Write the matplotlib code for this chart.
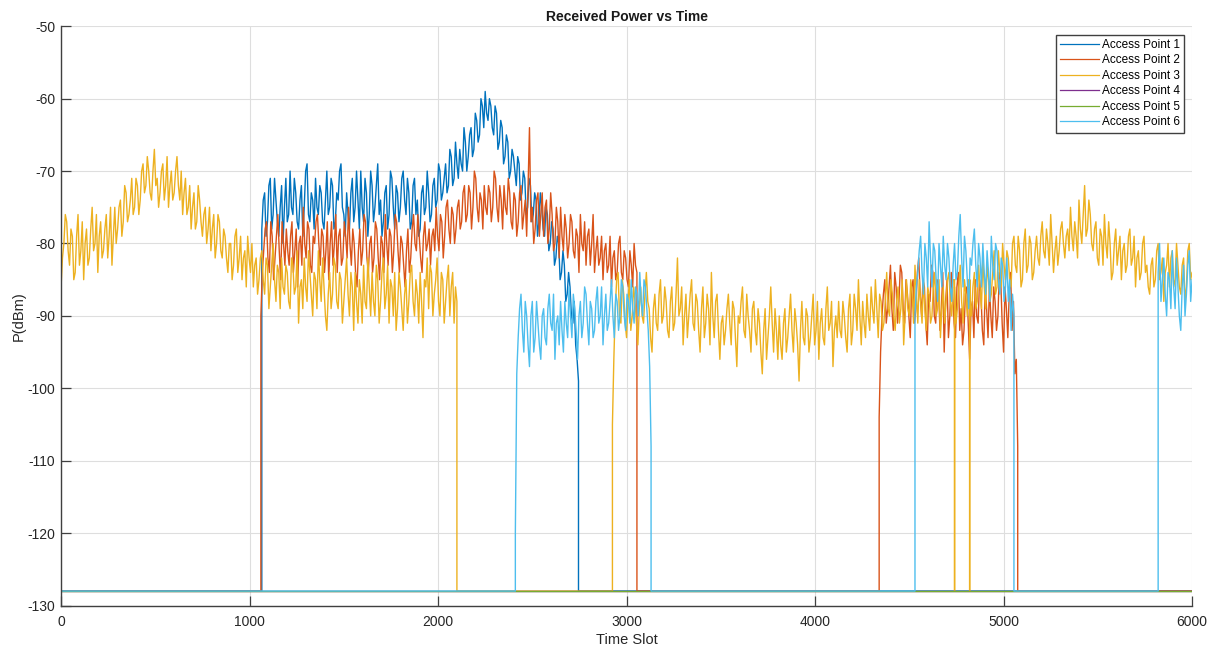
import numpy as np
import matplotlib
matplotlib.use("Agg")
import matplotlib.pyplot as plt

plt.rcParams['font.family'] = ['Liberation Sans', 'DejaVu Sans']
plt.rcParams['axes.unicode_minus'] = False

# --- data (dBm, one value every STEP time slots) ---
STEP = 7.5
FLOOR = -128          # level reported when an access point is not heard
T_MAX = 6000

LABELS = ["Access Point 1", "Access Point 2", "Access Point 3",
          "Access Point 4", "Access Point 5", "Access Point 6"]

AP1_START = 1065
AP1_VALS = [
    -78, -74, -73, -79, -77, -72, -71, -78, -76, -71, -74, -77, -79, -75, -72, -80, -75, -71, -77, -76,
    -70, -75, -76, -71, -73, -77, -78, -74, -72, -79, -75, -70, -69, -76, -77, -73, -74, -78, -71, -75,
    -76, -72, -73, -77, -78, -74, -70, -76, -75, -71, -72, -78, -77, -73, -74, -70, -69, -75, -76, -79,
    -73, -76, -78, -73, -71, -77, -75, -70, -74, -78, -70, -75, -77, -71, -73, -79, -76, -70, -72, -77,
    -75, -72, -69, -76, -74, -79, -77, -73, -72, -78, -76, -70, -71, -75, -78, -72, -73, -77, -75, -71,
    -70, -74, -76, -71, -73, -78, -77, -72, -71, -76, -74, -79, -78, -73, -72, -76, -75, -70, -73, -77,
    -76, -72, -71, -75, -74, -69, -70, -74, -73, -71, -69, -73, -72, -67, -68, -72, -71, -66, -69, -71,
    -67, -69, -70, -64, -66, -70, -68, -65, -64, -68, -67, -62, -63, -66, -65, -60, -61, -64, -59, -62,
    -63, -60, -61, -64, -65, -61, -62, -67, -66, -63, -64, -69, -68, -65, -66, -71, -70, -67, -68, -70,
    -72, -68, -69, -74, -73, -70, -71, -76, -75, -71, -72, -77, -76, -73, -74, -79, -77, -73, -75, -78,
    -79, -75, -76, -81, -80, -77, -78, -83, -82, -79, -80, -85, -84, -81, -83, -88, -87, -84, -86, -90,
    -91, -88, -94, -96, -99,
]

AP2_START_A = 1060
AP2_VALS_A = [
    -90, -84, -81, -78, -77, -82, -84, -77, -79, -85, -82, -79, -76, -81, -85, -77, -80, -83, -78, -81,
    -83, -79, -77, -84, -81, -78, -86, -80, -79, -83, -75, -80, -82, -77, -78, -83, -84, -79, -80, -77,
    -76, -80, -83, -78, -79, -84, -81, -77, -85, -80, -77, -83, -80, -76, -84, -79, -78, -83, -82, -77,
    -79, -82, -75, -80, -83, -78, -80, -84, -86, -81, -78, -83, -81, -76, -77, -82, -84, -80, -79, -84,
    -82, -77, -78, -82, -85, -79, -80, -84, -76, -80, -83, -78, -79, -84, -81, -76, -77, -81, -84, -79,
    -80, -83, -86, -81, -78, -84, -82, -78, -76, -80, -81, -76, -79, -82, -84, -79, -77, -81, -80, -78,
    -83, -79, -78, -81, -75, -79, -81, -76, -77, -82, -79, -75, -74, -78, -80, -75, -76, -80, -78, -75,
    -74, -78, -77, -73, -72, -77, -76, -72, -73, -78, -75, -70, -71, -75, -77, -73, -74, -78, -72, -75,
    -76, -72, -73, -77, -75, -70, -71, -75, -77, -72, -74, -78, -72, -75, -76, -71, -73, -77, -78, -73,
    -74, -79, -77, -73, -72, -78, -76, -74, -79, -72, -64, -77, -75, -80, -78, -74, -73, -79, -76, -73,
    -79, -75, -74, -80, -78, -73, -76, -81, -80, -75, -77, -82, -75, -79, -81, -76, -78, -82, -80, -76,
    -77, -81, -82, -78, -79, -84, -76, -80, -81, -77, -83, -79, -78, -83, -80, -76, -84, -81, -79, -83,
    -82, -79, -85, -81, -80, -84, -83, -79, -86, -82, -81, -85, -84, -80, -79, -84, -85, -81, -82, -85,
    -86, -81, -83, -86, -80, -83, -84,
]
AP2_START_B = 4340
AP2_VALS_B = [
    -104, -95, -90, -87, -85, -91, -89, -86, -83, -89, -92, -84, -86, -91, -88, -83, -84, -89, -91, -85,
    -87, -90, -93, -86, -85, -91, -89, -84, -82, -87, -90, -85, -86, -91, -94, -87, -88, -83, -84, -90,
    -91, -85, -86, -92, -89, -84, -95, -88, -85, -93, -90, -84, -87, -91, -93, -86, -84, -92, -89, -94,
    -92, -87, -86, -91, -96, -89, -88, -93, -85, -90, -91, -85, -87, -92, -94, -86, -89, -93, -86, -90,
    -93, -86, -88, -92, -90, -84, -85, -91, -95, -86, -89, -93, -87, -84, -92, -88, -98, -96, -108,
]

AP3_START_A = 0
AP3_VALS_A = [
    -86, -82, -80, -76, -77, -81, -83, -78, -79, -85, -84, -79, -76, -83, -81, -77, -85, -80, -78, -83,
    -82, -78, -75, -81, -80, -76, -84, -79, -77, -82, -81, -78, -76, -82, -79, -75, -83, -79, -75, -80,
    -78, -75, -74, -79, -77, -72, -73, -77, -76, -74, -71, -76, -75, -71, -72, -76, -74, -70, -69, -73,
    -72, -68, -70, -73, -74, -70, -67, -72, -71, -75, -73, -70, -69, -74, -72, -68, -75, -72, -70, -74,
    -73, -70, -68, -72, -74, -70, -76, -73, -71, -76, -75, -72, -78, -75, -73, -78, -77, -72, -74, -77,
    -79, -76, -75, -80, -78, -75, -81, -78, -76, -82, -80, -76, -77, -81, -82, -78, -79, -82, -84, -80,
    -80, -85, -83, -79, -78, -84, -82, -79, -85, -82, -81, -86, -79, -82, -84, -80, -86, -83, -82, -87,
    -85, -82, -81, -85, -87, -82, -83, -89, -86, -83, -80, -85, -88, -83, -84, -89, -82, -86, -87, -83,
    -84, -88, -89, -82, -83, -87, -86, -81, -91, -86, -85, -89, -82, -86, -88, -81, -84, -87, -90, -84,
    -85, -89, -81, -85, -88, -82, -86, -90, -92, -87, -84, -89, -87, -82, -83, -88, -89, -84, -85, -91,
    -88, -85, -82, -87, -90, -84, -86, -92, -84, -88, -91, -85, -87, -91, -83, -88, -89, -82, -86, -90,
    -84, -88, -90, -83, -85, -91, -88, -84, -82, -89, -87, -83, -91, -85, -86, -90, -84, -92, -89, -84,
    -86, -89, -92, -87, -85, -91, -88, -84, -83, -88, -90, -85, -87, -91, -84, -88, -93, -85, -86, -82,
    -89, -83, -84, -90, -87, -85, -82, -88, -90, -84, -85, -91, -88, -85, -83, -90, -86, -84, -91, -86,
    -88,
]
AP3_START_B = 2925
AP3_VALS_B = [
    -105, -96, -89, -85, -84, -90, -91, -85, -87, -91, -93, -88, -85, -92, -90, -86, -88, -91, -94, -89,
    -86, -90, -91, -87, -84, -88, -89, -93, -95, -89, -87, -91, -92, -87, -85, -91, -90, -86, -88, -92,
    -93, -88, -86, -92, -91, -87, -82, -90, -89, -86, -94, -90, -87, -93, -90, -87, -85, -91, -92, -87,
    -88, -92, -95, -89, -86, -93, -91, -87, -89, -94, -84, -90, -93, -88, -87, -92, -96, -91, -90, -94,
    -92, -89, -87, -91, -94, -88, -89, -93, -97, -90, -91, -88, -86, -92, -93, -87, -90, -92, -95, -89,
    -88, -92, -94, -89, -91, -95, -98, -92, -89, -96, -93, -90, -86, -91, -95, -89, -92, -96, -90, -94,
    -96, -91, -89, -95, -93, -90, -87, -92, -95, -89, -91, -94, -99, -92, -88, -93, -94, -89, -90, -95,
    -93, -90, -87, -94, -92, -88, -96, -91, -89, -93, -94, -89, -86, -92, -91, -88, -97, -92, -90, -93,
    -88, -92, -93, -88, -90, -93, -95, -89, -87, -94, -92, -87, -89, -92, -85, -90, -94, -88, -91, -93,
    -87, -90, -92, -86, -89, -91, -85, -89, -93, -87, -88, -92, -91, -88, -84, -89, -90, -85, -87, -90,
    -92, -88, -86, -91, -89, -85, -94, -90, -85, -89, -90, -85, -87, -91, -83, -87, -91, -85, -88, -91,
    -85, -89, -92, -86, -87, -91, -90, -86, -84, -90, -89, -85, -93, -89, -86, -91, -88, -85, -84, -88,
    -90, -85, -86, -91, -89, -86, -83, -88, -91, -85, -87, -90, -85, -88, -90, -86, -84, -89, -88, -83,
    -86, -89, -82, -86, -89, -83, -85, -88, -87, -84, -81, -87, -86, -81, -84, -86, -80, -83, -85, -81,
    -82, -85, -86, -80, -79, -83, -84, -79, -81, -86, -85, -80, -78, -84, -83, -79, -80, -85, -84, -81,
    -79, -82, -83, -79, -77, -81, -82, -78, -80, -83, -76, -80, -84, -81, -79, -83, -81, -78, -77, -80,
    -82, -79, -78, -81, -75, -79, -81, -77, -79, -82, -74, -78, -80, -76, -72, -79, -78, -74, -76, -80,
    -81, -78, -77, -82, -83, -78, -79, -83, -76, -80, -82, -77, -80, -85, -84, -80, -78, -83, -81, -79,
    -85, -81, -80, -84, -83, -79, -78, -83, -82, -79, -86, -82, -81, -85, -84, -80, -79, -84, -83, -86,
    -87, -83, -82, -86, -85, -81, -80, -85, -84, -82, -88, -84, -83, -80, -86, -82, -81, -86, -85, -80,
    -83, -86, -87, -83, -82, -88, -86, -81, -80, -85, -84,
]
AP3_DROPOUTS = [4740, 4820]

AP6_START_A = 2410
AP6_VALS_A = [
    -120, -98, -93, -89, -87, -92, -95, -88, -90, -94, -97, -90, -88, -95, -93, -88, -91, -94, -96, -90,
    -89, -93, -94, -89, -87, -91, -92, -87, -96, -91, -90, -94, -88, -92, -95, -88, -91, -93, -86, -90,
    -93, -87, -89, -92, -96, -90, -88, -93, -91, -86, -87, -91, -94, -88, -89, -93, -92, -88, -86, -91,
    -90, -86, -94, -90, -87, -92, -91, -88, -85, -90, -93, -87, -88, -92, -90, -85, -86, -90, -92, -87,
    -88, -91, -85, -89, -91, -86, -87, -90, -84, -88, -90, -85, -86, -89, -92, -97, -108,
]
AP6_START_B = 4530
AP6_VALS_B = [
    -90, -86, -84, -81, -79, -84, -87, -80, -82, -86, -77, -82, -86, -80, -81, -85, -88, -80, -83, -86,
    -79, -83, -85, -80, -82, -86, -88, -83, -80, -85, -84, -79, -76, -82, -86, -79, -81, -85, -89, -82,
    -83, -80, -78, -83, -86, -80, -82, -86, -80, -84, -87, -81, -84, -88, -79, -83, -85, -80, -81, -85,
    -87, -82, -83, -88, -86, -82, -88, -85, -92, -87, -90,
]
AP6_START_C = 5820
AP6_VALS_C = [
    -84, -80, -88, -85, -82, -87, -90, -84, -85, -89, -81, -86, -89, -82, -86, -90, -92, -86, -83, -90,
    -87, -83, -81, -88, -85,
]

SEGMENTS = [
    [(AP1_START, AP1_VALS)],
    [(AP2_START_A, AP2_VALS_A), (AP2_START_B, AP2_VALS_B)],
    [(AP3_START_A, AP3_VALS_A), (AP3_START_B, AP3_VALS_B)],
    [],
    [],
    [(AP6_START_A, AP6_VALS_A), (AP6_START_B, AP6_VALS_B), (AP6_START_C, AP6_VALS_C)],
]
DROPOUTS = [[], [], AP3_DROPOUTS, [], [], []]

COLORS = ["#0072BD", "#D95319", "#EDB120", "#7E2F8E", "#77AC30", "#4DBEEE"]


def build(segments, dropouts):
    """Turn active segments into one trace that sits on FLOOR elsewhere."""
    x, y = [0.0], [float(FLOOR)]
    for start, vals in segments:
        t = start + STEP * np.arange(len(vals))
        if start > 0:
            x.append(start); y.append(FLOOR)
        else:
            x, y = [], []
        x += list(t); y += list(vals)
        if t[-1] < T_MAX:
            x.append(t[-1]); y.append(FLOOR)
    if x[-1] < T_MAX:
        x.append(T_MAX); y.append(FLOOR)
    x = np.asarray(x, float); y = np.asarray(y, float)
    for t in dropouts:
        i = np.searchsorted(x, t)
        v = y[i - 1]
        x = np.insert(x, i, [t, t, t])
        y = np.insert(y, i, [v, FLOOR, v])
    return x, y


fig = plt.figure(figsize=(12.09, 6.49), dpi=100)
ax = fig.add_axes([0.0505, 0.067, 0.9355, 0.8925])

for segs, drops, col, lab in zip(SEGMENTS, DROPOUTS, COLORS, LABELS):
    xs, ys = build(segs, drops)
    ax.plot(xs, ys, color=col, lw=1.0, label=lab)

ax.set_xlim(0, T_MAX)
ax.set_ylim(-130, -50)
ax.set_xticks(np.arange(0, 6001, 1000))
ax.set_yticks(np.arange(-130, -49, 10))

ax.grid(True, color="#dedede", lw=0.8)
ax.set_axisbelow(True)
for s in ("top", "right"):
    ax.spines[s].set_visible(False)
for s in ("left", "bottom"):
    ax.spines[s].set_color("#404040")
    ax.spines[s].set_linewidth(1.0)
ax.tick_params(direction="in", length=7, width=0.9, color="#404040",
               labelsize=10, labelcolor="#262626")
ax.tick_params(axis="x", pad=7)
ax.tick_params(axis="y", pad=4)

ax.set_title("Received Power vs Time", fontsize=10, fontweight="bold",
             color="#1a1a1a", pad=4)
ax.set_xlabel("Time Slot", fontsize=10.5, color="#262626", labelpad=3)
ax.set_ylabel("P(dBm)", fontsize=10.5, color="#262626", labelpad=1)

leg = ax.legend(loc="upper right", fontsize=8.5, handlelength=3.3,
                handletextpad=0.25, labelspacing=0.3, borderpad=0.35,
                borderaxespad=0.7, fancybox=False, framealpha=1)
leg.get_frame().set_edgecolor("#404040")
leg.get_frame().set_linewidth(1.0)
for ln in leg.get_lines():
    ln.set_linewidth(0.9)

fig.savefig("out.png", dpi=100)
